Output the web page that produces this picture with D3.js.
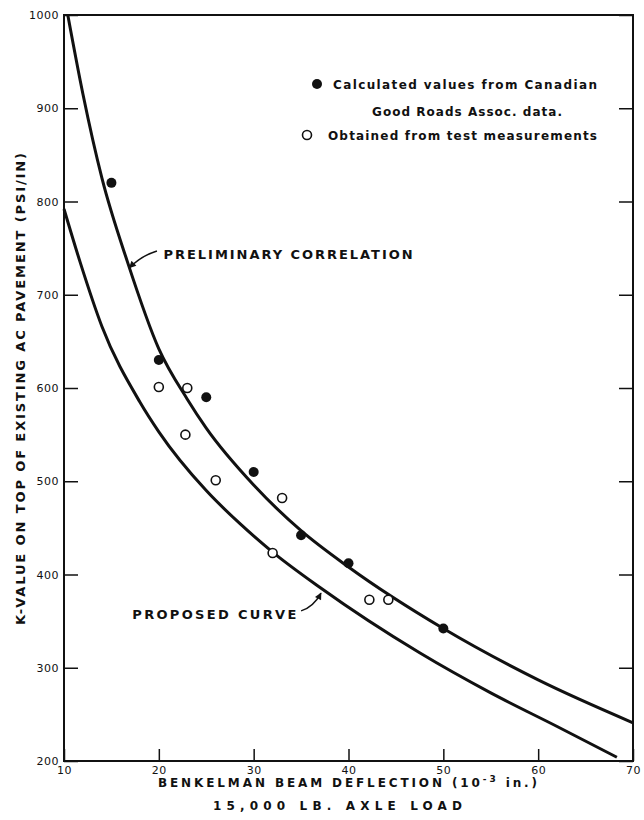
<!DOCTYPE html>
<html>
<head>
<meta charset="utf-8">
<script src="https://cdn.jsdelivr.net/npm/d3@7"></script>
<style>
  body { margin: 0; background: #fff; }
  text { font-family: "DejaVu Sans", sans-serif; fill: #111; }
</style>
</head>
<body>
<div id="chart"></div>
<script>
// values
const xTicks = [10, 20, 30, 40, 50, 60, 70];
const yTicks = [200, 300, 400, 500, 600, 700, 800, 900, 1000];

// calculated values from Canadian Good Roads Assoc. data (filled dots)
const cgraPoints = [
  [15, 820], [20, 630], [25, 590], [30, 510], [35, 442], [40, 412], [50, 342]
];

// obtained from test measurements (open dots)
const testPoints = [
  [20, 601], [23, 600], [22.8, 550], [26, 501], [32, 423], [33, 482], [42.2, 373], [44.2, 373]
];

// preliminary correlation curve (upper)
const preliminaryCurve = [
  [10.4, 1000], [12, 915], [14, 825], [16.7, 735], [20, 642], [23, 588], [25, 557],
  [30, 496], [35, 447], [40, 408], [50, 342], [60, 287], [70, 241]
];

// proposed curve (lower)
const proposedCurve = [
  [10, 792], [11.7, 735], [14, 666], [18, 585], [20, 553], [25, 490], [28.5, 455],
  [32, 424], [37, 386], [47.5, 316], [55, 273], [62, 237], [68.3, 204]
];

const width = 644;
const height = 820;
const margin = { top: 15, right: 11, bottom: 59, left: 64 };

const svg = d3.select("#chart")
  .append("svg")
  .attr("width", width)
  .attr("height", height)
  .attr("viewBox", [0, 0, width, height]);

const x = d3.scaleLinear().domain([10, 70]).range([margin.left, width - margin.right]);
const y = d3.scaleLinear().domain([200, 1000]).range([height - margin.bottom, margin.top]);

// arrow head marker
svg.append("defs")
  .append("marker")
  .attr("id", "arrow")
  .attr("viewBox", [0, 0, 10, 10])
  .attr("refX", 9)
  .attr("refY", 5)
  .attr("markerUnits", "userSpaceOnUse")
  .attr("markerWidth", 9)
  .attr("markerHeight", 7)
  .attr("orient", "auto")
  .append("path")
  .attr("d", "M 0 0 L 10 5 L 0 10 z")
  .attr("fill", "#111");

// x axis, ticks pointing inward
const xAxis = svg.append("g")
  .attr("transform", `translate(0,${y(200)})`)
  .call(d3.axisBottom(x).tickValues(xTicks).tickSize(-12).tickPadding(5));
xAxis.select(".domain").remove();
xAxis.selectAll("line").attr("stroke", "#111").attr("stroke-width", 1.5);
xAxis.selectAll("text").attr("font-size", 11).style("letter-spacing", "0.5px");

// y axis
const yAxis = svg.append("g")
  .attr("transform", `translate(${x(10)},0)`)
  .call(d3.axisLeft(y).tickValues(yTicks).tickSize(-14).tickPadding(5).tickFormat(d3.format("d")));
yAxis.select(".domain").remove();
yAxis.selectAll("line").attr("stroke", "#111").attr("stroke-width", 1.5);
yAxis.selectAll("text").attr("font-size", 11).style("letter-spacing", "0.5px");

// right side ticks
const yAxisRight = svg.append("g")
  .attr("transform", `translate(${x(70)},0)`)
  .call(d3.axisRight(y).tickValues(yTicks).tickSize(-14).tickFormat(""));
yAxisRight.select(".domain").remove();
yAxisRight.selectAll("line").attr("stroke", "#111").attr("stroke-width", 1.5);

// frame
svg.append("rect")
  .attr("x", x(10))
  .attr("y", y(1000))
  .attr("width", x(70) - x(10))
  .attr("height", y(200) - y(1000))
  .attr("fill", "none")
  .attr("stroke", "#111")
  .attr("stroke-width", 2);

// curves
const line = d3.line()
  .x((d) => x(d[0]))
  .y((d) => y(d[1]))
  .curve(d3.curveMonotoneX);

svg.append("path")
  .datum(preliminaryCurve)
  .attr("class", "curve-preliminary")
  .attr("d", line)
  .attr("fill", "none")
  .attr("stroke", "#111")
  .attr("stroke-width", 3);

svg.append("path")
  .datum(proposedCurve)
  .attr("class", "curve-proposed")
  .attr("d", line)
  .attr("fill", "none")
  .attr("stroke", "#111")
  .attr("stroke-width", 3);

// points
svg.selectAll(".cgra-point")
  .data(cgraPoints)
  .join("circle")
  .attr("class", "cgra-point")
  .attr("cx", (d) => x(d[0]))
  .attr("cy", (d) => y(d[1]))
  .attr("r", 5)
  .attr("fill", "#111");

svg.selectAll(".test-point")
  .data(testPoints)
  .join("circle")
  .attr("class", "test-point")
  .attr("cx", (d) => x(d[0]))
  .attr("cy", (d) => y(d[1]))
  .attr("r", 4.5)
  .attr("fill", "#fff")
  .attr("stroke", "#111")
  .attr("stroke-width", 1.6);

// curve labels with arrows
svg.append("text")
  .attr("x", x(20.5))
  .attr("y", y(738))
  .attr("font-size", 13)
  .attr("font-weight", "bold")
  .attr("textLength", 249)
  .attr("lengthAdjust", "spacing")
  .text("PRELIMINARY CORRELATION");

svg.append("path")
  .attr("d", `M${x(19.8)},${y(747)} Q${x(18.2)},${y(742)} ${x(16.9)},${y(729)}`)
  .attr("fill", "none")
  .attr("stroke", "#111")
  .attr("stroke-width", 1.5)
  .attr("marker-end", "url(#arrow)");

svg.append("text")
  .attr("x", x(17.2))
  .attr("y", y(352))
  .attr("font-size", 13)
  .attr("font-weight", "bold")
  .attr("textLength", 164)
  .attr("lengthAdjust", "spacing")
  .text("PROPOSED CURVE");

svg.append("path")
  .attr("d", `M${x(35.0)},${y(361)} Q${x(36.3)},${y(365)} ${x(37.1)},${y(380)}`)
  .attr("fill", "none")
  .attr("stroke", "#111")
  .attr("stroke-width", 1.5)
  .attr("marker-end", "url(#arrow)");

// legend
const legend = svg.append("g").attr("class", "legend");
legend.append("circle")
  .attr("cx", 317).attr("cy", 84).attr("r", 5).attr("fill", "#111");
legend.append("text")
  .attr("x", 333).attr("y", 89)
  .attr("font-size", 12)
  .attr("font-weight", "bold")
  .attr("textLength", 264)
  .attr("lengthAdjust", "spacing")
  .text("Calculated values from Canadian");
legend.append("text")
  .attr("x", 372).attr("y", 116)
  .attr("font-size", 12)
  .attr("font-weight", "bold")
  .attr("textLength", 190)
  .attr("lengthAdjust", "spacing")
  .text("Good Roads Assoc. data.");
legend.append("circle")
  .attr("cx", 307).attr("cy", 135).attr("r", 4.5)
  .attr("fill", "#fff").attr("stroke", "#111").attr("stroke-width", 1.6);
legend.append("text")
  .attr("x", 328).attr("y", 140)
  .attr("font-size", 12)
  .attr("font-weight", "bold")
  .attr("textLength", 269)
  .attr("lengthAdjust", "spacing")
  .text("Obtained from test measurements");

// axis titles
const xTitle = svg.append("text")
  .attr("x", 158)
  .attr("y", 787)
  .attr("font-size", 12)
  .attr("font-weight", "bold")
  .attr("textLength", 379)
  .attr("lengthAdjust", "spacing");
xTitle.append("tspan").text("BENKELMAN BEAM DEFLECTION (10");
xTitle.append("tspan").attr("dy", -5).attr("font-size", 9).text("-3");
xTitle.append("tspan").attr("dy", 5).text(" in.)");

svg.append("text")
  .attr("x", 213)
  .attr("y", 810)
  .attr("font-size", 12)
  .attr("font-weight", "bold")
  .attr("textLength", 249)
  .attr("lengthAdjust", "spacing")
  .text("15,000 LB. AXLE LOAD");

svg.append("text")
  .attr("transform", "translate(25,389) rotate(-90)")
  .attr("text-anchor", "middle")
  .attr("font-size", 13)
  .attr("font-weight", "bold")
  .attr("textLength", 472)
  .attr("lengthAdjust", "spacing")
  .text("K-VALUE ON TOP OF EXISTING AC PAVEMENT (PSI/IN)");
</script>
</body>
</html>
